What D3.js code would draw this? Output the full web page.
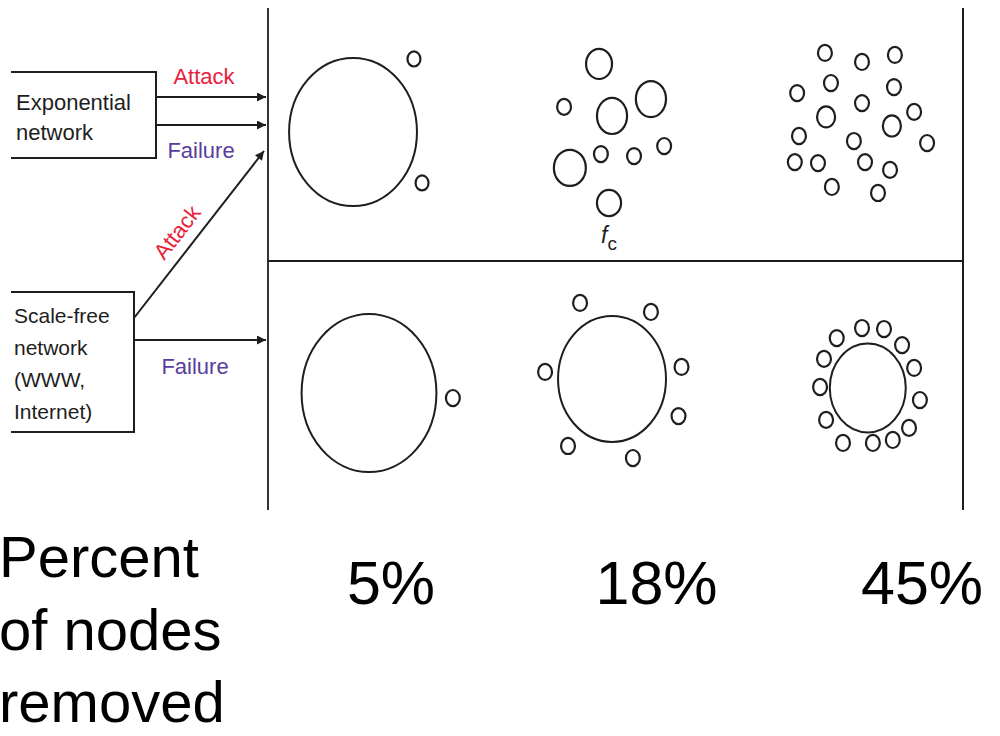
<!DOCTYPE html>
<html><head><meta charset="utf-8">
<script src="https://cdn.jsdelivr.net/npm/d3@7"></script>
<style>html,body{margin:0;padding:0;background:#fff;overflow:hidden}</style>
</head><body>
<svg id="c" width="1000" height="736"></svg>
<script>
// ---- data ----
const percents = ["5%", "18%", "45%"];
const networks = ["Exponential", "Scale-free"];
const bottomLabel = ["Percent", "of nodes", "removed"];
const expLabel = ["Exponential", "network"];
const sfLabel = ["Scale-free", "network", "(WWW,", "Internet)"];
// clusters: [x, y, rx, ry] in local cell units (0-100)
const exp5 = [[36.7,48.6,27.6,29.5],[63.0,19.5,2.8,3.0],[66.5,68.9,2.8,3.0]];
const exp18 = [[42.9,21.5,5.6,6.0],[27.8,38.6,3.0,3.2],[48.5,42.2,6.5,7.2],[65.3,35.5,6.5,7.2],
  [30.3,62.9,6.9,7.2],[43.7,57.4,3.0,3.2],[58.0,58.2,3.0,3.2],[71.0,54.2,3.0,3.2],[47.2,76.9,5.2,5.2]];
const exp45 = [[40.4,17.1,3,3.2],[56.4,20.7,3,3.2],[70.6,17.9,3,3.2],[43.0,29.1,3,3.2],[70.2,30.7,3,3.2],
  [28.4,33.1,3,3.2],[56.4,37.1,3,3.2],[40.9,42.6,3.9,4.2],[78.9,40.6,3,3.2],[69.3,46.2,3.9,4.2],
  [29.2,50.2,3,3.2],[52.9,52.2,3,3.2],[84.5,53.0,3,3.2],[27.4,60.6,3,3.2],[37.4,61.0,3,3.2],
  [57.7,60.6,3,3.2],[68.5,63.7,3,3.2],[43.4,70.5,3,3.2],[63.3,72.9,3,3.2]];
const sf5 = [[43.6,52.6,29.1,31.5],[79.8,54.6,3,3.2]];
const sf18 = [[48.5,47.0,23.3,25.1],[34.7,16.7,3,3.2],[65.3,20.3,3,3.2],[19.6,44.2,3,3.2],[78.5,42.2,3,3.2],
  [77.2,61.8,3,3.2],[29.5,73.7,3,3.2],[57.5,78.5,3,3.2]];
const sf45 = [[58.9,50.6,16.4,17.7],[45.5,30.7,3,3.2],[56.4,26.7,3,3.2],[65.9,27.1,3,3.2],[73.7,33.5,3,3.2],
  [78.9,42.6,3,3.2],[81.4,55.4,3,3.2],[76.7,66.5,3,3.2],[69.7,71.3,3,3.2],[61.1,72.5,3,3.2],
  [48.2,72.5,3,3.2],[40.9,63.3,3,3.2],[38.3,50.2,3,3.2],[40.0,39.0,3,3.2]];
const panels = [
  {net:"Exponential", pct:"5%", nodes:exp5},{net:"Exponential", pct:"18%", nodes:exp18},{net:"Exponential", pct:"45%", nodes:exp45},
  {net:"Scale-free", pct:"5%", nodes:sf5},{net:"Scale-free", pct:"18%", nodes:sf18},{net:"Scale-free", pct:"45%", nodes:sf45}];

// ---- drawing ----
const svg = d3.select("#c");
const FONT = "'Liberation Sans', Arial, Helvetica, sans-serif";
const ink = "#1e1e1e";
const red = "#e8203a", purple = "#5a3c9e";

const col = d3.scaleBand().domain(percents).range([268, 963]);
const row = d3.scaleBand().domain(networks).range([10, 512]);

svg.append("defs").append("marker")
  .attr("id","ah").attr("viewBox","0 0 10 10").attr("refX",10).attr("refY",5)
  .attr("markerWidth",13).attr("markerHeight",9).attr("markerUnits","userSpaceOnUse")
  .attr("orient","auto")
  .append("path").attr("d","M0,0 L10,5 L0,10 Z").attr("fill",ink);

// frame lines
svg.append("line").attr("x1",268).attr("x2",268).attr("y1",8).attr("y2",510).attr("stroke","#333").attr("stroke-width",2);
svg.append("line").attr("x1",963).attr("x2",963).attr("y1",8).attr("y2",510).attr("stroke",ink).attr("stroke-width",2);
svg.append("line").attr("x1",268).attr("x2",963).attr("y1",row("Scale-free")).attr("y2",row("Scale-free")).attr("stroke",ink).attr("stroke-width",2);

// clusters
panels.forEach(p => {
  const x0 = col(p.pct), y0 = row(p.net);
  const sx = d3.scaleLinear().domain([0,100]).range([x0, x0 + col.bandwidth()]);
  const sy = d3.scaleLinear().domain([0,100]).range([y0, y0 + row.bandwidth()]);
  const kx = d3.scaleLinear().domain([0,100]).range([0, col.bandwidth()]);
  const ky = d3.scaleLinear().domain([0,100]).range([0, row.bandwidth()]);
  svg.append("g").selectAll("ellipse").data(p.nodes).join("ellipse")
    .attr("cx", d => sx(d[0])).attr("cy", d => sy(d[1]))
    .attr("rx", d => kx(d[2])).attr("ry", d => ky(d[3]))
    .attr("fill","none").attr("stroke",ink).attr("stroke-width", d => d[2] > 10 ? 2 : 2.2);
});

// f_c label
const fc = svg.append("text").attr("x",601).attr("y",243).attr("font-family",FONT).attr("font-size",23).attr("fill",ink);
fc.append("tspan").attr("font-style","italic").text("f");
fc.append("tspan").attr("dy",7).attr("font-size",19).text("c");

// boxes
svg.append("path").attr("d","M11,72 H156 V158 H11").attr("fill","none").attr("stroke",ink).attr("stroke-width",2);
svg.append("path").attr("d","M11,292 H134 V432 H11").attr("fill","none").attr("stroke",ink).attr("stroke-width",2);

svg.append("g").selectAll("text").data(expLabel).join("text")
  .attr("x",16).attr("y",(d,i)=>110+i*30).attr("font-family",FONT).attr("font-size",22).attr("fill",ink).text(d=>d);
svg.append("g").selectAll("text").data(sfLabel).join("text")
  .attr("x",14).attr("y",(d,i)=>323+i*32).attr("font-family",FONT).attr("font-size",21).attr("fill",ink).text(d=>d);

// arrows
const arrows = [[156,97,266,97],[156,125,266,125],[134,318,264,151],[134,340,266,340]];
svg.append("g").selectAll("line").data(arrows).join("line")
  .attr("x1",d=>d[0]).attr("y1",d=>d[1]).attr("x2",d=>d[2]).attr("y2",d=>d[3])
  .attr("stroke",ink).attr("stroke-width",2).attr("marker-end","url(#ah)");

// arrow labels
const lab = (x,y,t,c,rot) => svg.append("text").attr("font-family",FONT).attr("font-size",22).attr("fill",c)
  .attr("text-anchor","middle").attr("transform",`translate(${x},${y}) rotate(${rot||0})`).text(t);
lab(204,84,"Attack",red);
lab(201,158,"Failure",purple);
lab(195,374,"Failure",purple);
lab(183,237,"Attack",red,-52);

// percent labels
const px = d3.scalePoint().domain(percents).range([391, 922]);
svg.append("g").selectAll("text").data(percents).join("text")
  .attr("x",d=>px(d)).attr("y",604).attr("text-anchor","middle")
  .attr("font-family",FONT).attr("font-size",61).attr("fill","#000").text(d=>d);
svg.append("g").selectAll("text").data(bottomLabel).join("text")
  .attr("x",-1).attr("y",(d,i)=>577+i*72.5)
  .attr("font-family",FONT).attr("font-size",58).attr("fill","#000").text(d=>d);
</script>
</body></html>
